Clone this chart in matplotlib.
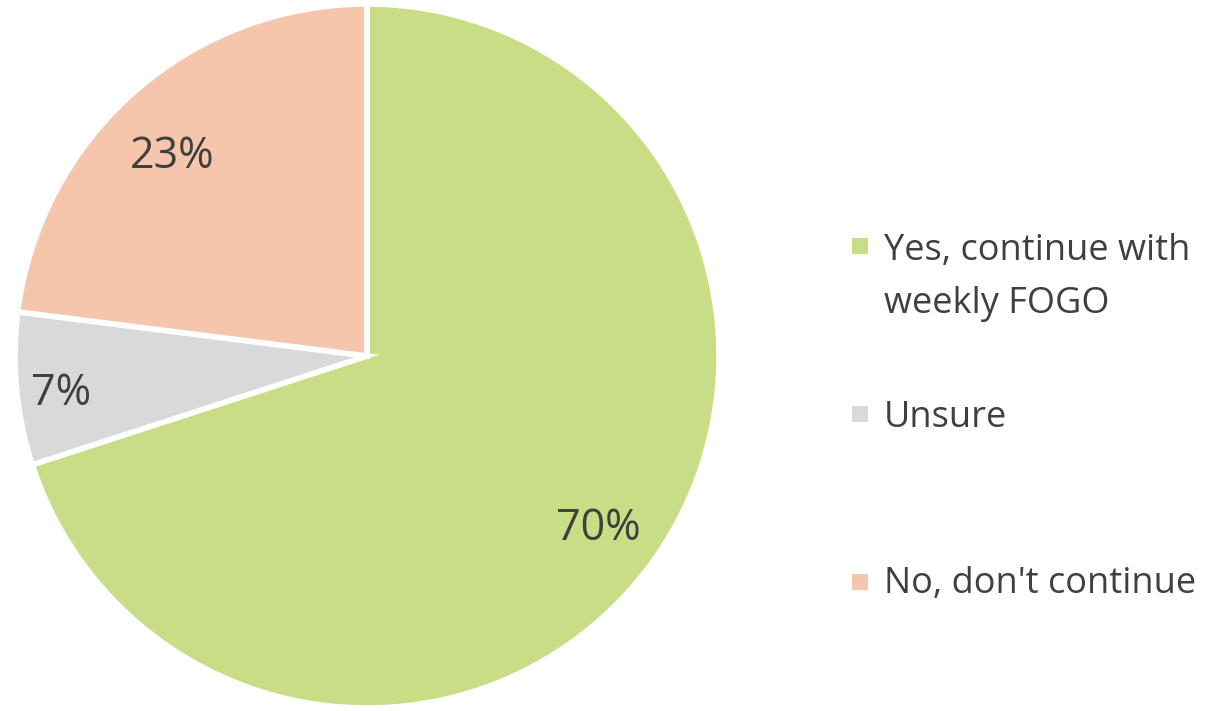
import matplotlib
matplotlib.use("Agg")
import matplotlib.pyplot as plt
from matplotlib.patches import Rectangle
import numpy as np

labels = ["Yes, continue with\nweekly FOGO", "Unsure", "No, don't continue"]
values = [70, 7, 23]
colors = ["#C9DD87", "#D9D9D9", "#F6C6AC"]
label_dist = [0.813, 0.874, 0.800]
label_ang_off = [-0.2, 0.8, 2.4]
text_color = "#404040"

plt.rcParams['font.family'] = ['Open Sans', 'DejaVu Sans']

W, H = 1226, 711
fig = plt.figure(figsize=(W / 100, H / 100), dpi=100)
cx, cy, r = 367, 356, 352
ax = fig.add_axes([(cx - r) / W, (H - cy - r) / H, 2 * r / W, 2 * r / H])

wedges, _ = ax.pie(values, colors=colors, startangle=90, counterclock=False,
                   wedgeprops=dict(edgecolor="white", linewidth=4), radius=1.0)
lab_fs = 31
for w, v, d, da in zip(wedges, values, label_dist, label_ang_off):
    ang = np.deg2rad((w.theta1 + w.theta2) / 2 + da)
    ax.annotate(f"{v}%", (d * np.cos(ang), d * np.sin(ang)),
                xytext=(0, -lab_fs * 0.714 / 2), textcoords="offset points",
                ha="center", va="baseline", fontsize=lab_fs, color=text_color)
ax.set_xlim(-1.0, 1.0)
ax.set_ylim(-1.0, 1.0)
ax.set_aspect("equal")
ax.axis("off")

# Legend (Excel style, marker aligned to first line)
marker_y = [246, 414, 582]
baseline_y = [260, 427, 593]
line_step = 53
for lab, col, my, by in zip(labels, colors, marker_y, baseline_y):
    fig.patches.append(Rectangle((852 / W, (H - my - 8) / H), 16 / W, 16 / H,
                                 transform=fig.transFigure, facecolor=col, edgecolor="none"))
    last_baseline = by + (lab.count("\n")) * line_step
    fig.text(884 / W, (H - last_baseline) / H, lab, ha="left", va="baseline",
             fontsize=26, color=text_color, linespacing=1.63,
             transform=fig.transFigure)

fig.savefig("out.png", dpi=100, facecolor="white")
